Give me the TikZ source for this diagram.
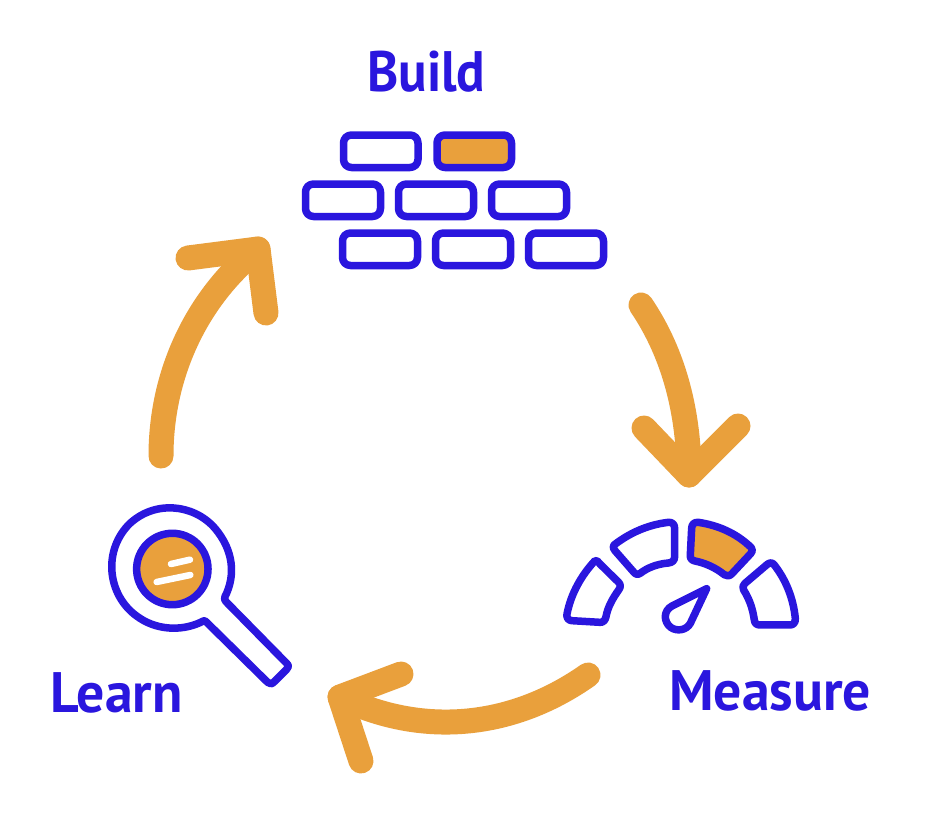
\documentclass[tikz,border=0pt]{standalone}
\usepackage{fontspec}
\setmainfont{PT Sans}
\newfontfamily\headA{PT Sans}[FakeStretch=0.93,BoldFont=* Bold]
\newfontfamily\headB{PT Sans}[FakeStretch=0.977,BoldFont=* Bold]
\definecolor{inkblue}{RGB}{42,22,222}
\definecolor{amber}{RGB}{233,160,60}
\tikzset{
  bluebox/.style={draw=inkblue,line width=7.5pt,rounded corners=8pt,line join=round},
  amberfill/.style={fill=amber},
  bigarrow/.style={draw=amber,line width=25pt,line cap=round,line join=round},
  heading/.style={text=inkblue,inner sep=0pt,anchor=base west},
  zoomone/.style={shift={(540,500)},x=0.3333pt,y=-0.3333pt},
  zoomtwo/.style={shift={(90,490)},x=0.3333pt,y=-0.3333pt},
}
\begin{document}
\begin{tikzpicture}[x=1pt,y=-1pt]
\useasboundingbox (0,0) rectangle (939,822);
\fill[white] (0,0) rectangle (939,822);
% headings
\node[heading,font=\fontsize{57}{57}\headA\bfseries] (build) at (367,91) {Build};
\node[heading,font=\fontsize{57}{57}\headB\bfseries] (learn) at (50,712) {Learn};
\node[heading,font=\fontsize{57}{57}\headB\bfseries] (measure) at (669,710) {Measure};
% bricks
\draw[bluebox] (343.5,135) rectangle (418,167.5);
\draw[bluebox,amberfill] (437,135) rectangle (511.5,167.5);
\draw[bluebox] (305.5,184) rectangle (380.5,216.5);
\draw[bluebox] (398.5,184) rectangle (473.5,216.5);
\draw[bluebox] (491.5,184) rectangle (566.5,216.5);
\draw[bluebox] (342.5,233) rectangle (417.5,265.5);
\draw[bluebox] (435.5,233) rectangle (510.5,265.5);
\draw[bluebox] (528.5,233) rectangle (603.5,265.5);
% gauge
\begin{scope}[zoomone]
\draw[bluebox,rounded corners=0pt] (165,182) .. controls (125,225) and (93,280) .. (81,342)
  .. controls (79,352) and (84,361) .. (95,362) -- (180,367)
  .. controls (190,368) and (196,360) .. (198,350)
  .. controls (203,322) and (218,295) .. (236,270)
  .. controls (243,261) and (242,253) .. (235,246) -- (180,192)
  .. controls (174,185) and (170,179) .. (165,182) -- cycle;
\draw[bluebox,rounded corners=0pt] (222,135) .. controls (270,98) and (325,74) .. (385,67)
  .. controls (397,66) and (404,73) .. (404,85) -- (404,170)
  .. controls (404,182) and (396,188) .. (385,189)
  .. controls (350,192) and (322,204) .. (302,219)
  .. controls (294,225) and (287,224) .. (281,216) -- (225,152)
  .. controls (220,146) and (217,140) .. (222,135) -- cycle;
\draw[bluebox,amberfill,rounded corners=0pt] (455,85) .. controls (455,73) and (463,66) .. (475,67)
  .. controls (535,76) and (590,100) .. (634,143)
  .. controls (639,149) and (638,156) .. (632,161) -- (575,222)
  .. controls (568,229) and (560,229) .. (553,224)
  .. controls (525,202) and (495,189) .. (465,183)
  .. controls (455,181) and (450,175) .. (451,165) -- cycle;
\draw[bluebox,rounded corners=0pt] (682,193) .. controls (690,187) and (697,187) .. (703,195)
  .. controls (738,240) and (760,295) .. (766,355)
  .. controls (767,368) and (760,375) .. (750,375) -- (660,375)
  .. controls (650,375) and (644,370) .. (643,360)
  .. controls (638,325) and (628,297) .. (611,270)
  .. controls (607,262) and (608,256) .. (615,250) -- cycle;
\draw[bluebox,rounded corners=0pt] (500,266) -- (396,318)
  .. controls (370,332) and (370,365) .. (392,382)
  .. controls (412,396) and (440,390) .. (451,370) -- cycle;
\end{scope}
% magnifier
\begin{scope}[zoomtwo]
\draw[bluebox,rounded corners=0pt] (340,393) .. controls (285,422) and (210,424) .. (150,385)
  .. controls (55,325) and (35,190) .. (115,105)
  .. controls (190,30) and (310,40) .. (375,115)
  .. controls (430,180) and (438,255) .. (405,320)
  .. controls (403,326) and (403,330) .. (408,335) -- (590,520)
  .. controls (597,527) and (597,532) .. (590,538) -- (553,575)
  .. controls (546,583) and (540,583) .. (533,577) -- (350,397)
  .. controls (346,393) and (344,391) .. (340,393) -- cycle;
\fill[amber] (247,237) circle[radius=35.7pt];
\draw[draw=inkblue,line width=7.5pt] (247,237) circle[radius=35.7pt];
\draw[white,line width=6.5pt,line cap=round] (243,222) -- (300,209);
\draw[white,line width=6.5pt,line cap=round] (200,276) -- (301,255);
\end{scope}
% arrows
\coordinate (a1s) at (641,305); \coordinate (a1e) at (689,475);
\coordinate (a1l) at (644,428); \coordinate (a1r) at (738,426);
\coordinate (a2s) at (588,675); \coordinate (a2e) at (340,697);
\coordinate (a2l) at (401,674); \coordinate (a2r) at (361,761);
\coordinate (a3s) at (161,456); \coordinate (a3e) at (258,249);
\coordinate (a3l) at (188,258); \coordinate (a3r) at (266,313);
\draw[bigarrow] (a1s) .. controls (675,355) and (689,415) .. (a1e);
\draw[bigarrow] (a1l) -- (a1e) -- (a1r);
\draw[bigarrow] (a2s) .. controls (510,730) and (420,736) .. (a2e);
\draw[bigarrow] (a2l) -- (a2e) -- (a2r);
\draw[bigarrow] (a3s) .. controls (161,370) and (200,295) .. (a3e);
\draw[bigarrow] (a3l) -- (a3e) -- (a3r);
\end{tikzpicture}
\end{document}
